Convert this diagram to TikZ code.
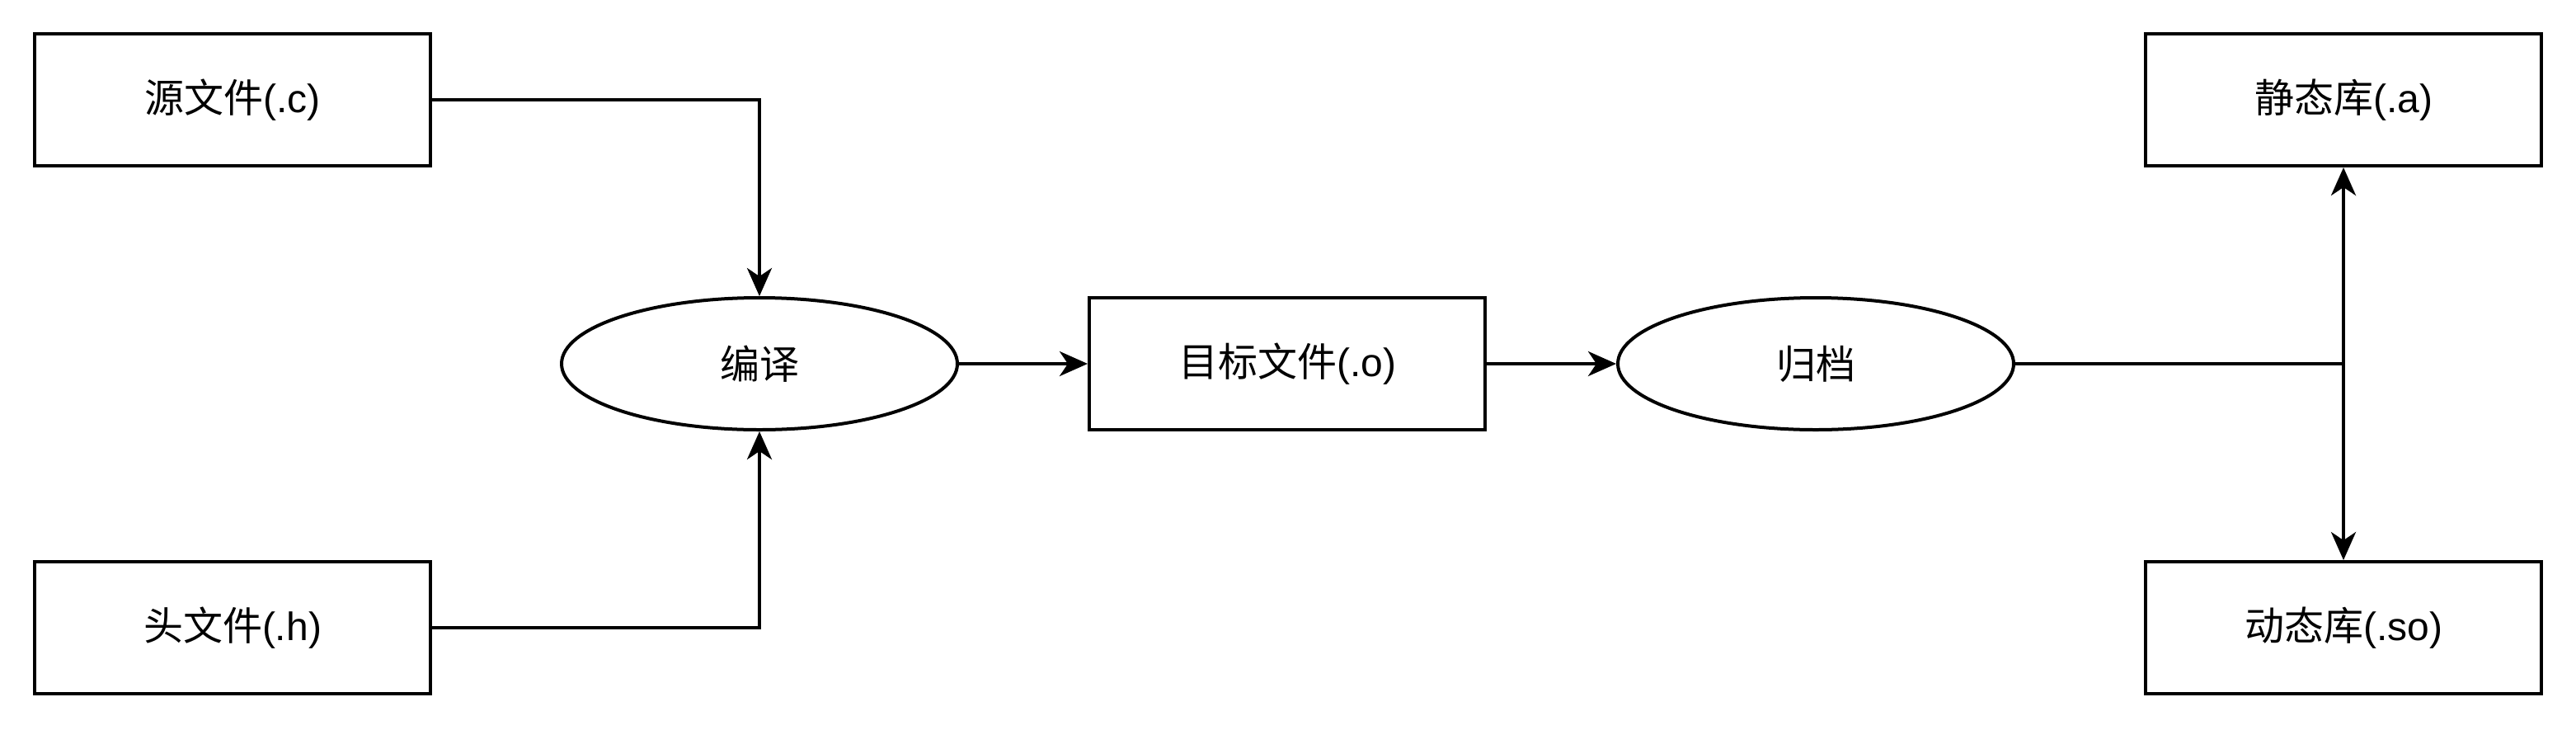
\documentclass[tikz,border=0pt]{standalone}
\usepackage{fontspec}
\setmainfont{Liberation Sans}
\newfontfamily\cjk{Noto Sans CJK SC}
\usetikzlibrary{arrows.meta,shapes.geometric}
\begin{document}
\begin{tikzpicture}[x=1pt,y=-1pt,
  every node/.style={font=\fontsize{24}{28}\selectfont, line width=2pt, inner sep=0pt},
  filebox/.style={draw, rectangle, minimum width=240pt, minimum height=80pt},
  procell/.style={draw, ellipse, minimum width=240pt, minimum height=80pt},
  arr/.style={line width=2pt, -{Stealth[length=17pt,width=15pt,inset=5pt]}},
  ln/.style={line width=2pt}]
\useasboundingbox (0,0) rectangle (1562,442);
\node[filebox] (src) at (141,60.5) {{\cjk 源文件}(.c)};
\node[filebox] (hdr) at (141,380.5) {{\cjk 头文件}(.h)};
\node[procell] (comp) at (460.5,220.5) {{\cjk 编译}};
\node[filebox] (obj) at (780.5,220.5) {{\cjk 目标文件}(.o)};
\node[procell] (arch) at (1101,220.5) {{\cjk 归档}};
\node[filebox] (stat) at (1421,60.5) {{\cjk 静态库}(.a)};
\node[filebox] (dyn) at (1421,380.5) {{\cjk 动态库}(.so)};
\coordinate (j) at (stat.south |- arch.east);
\draw[arr] (src.east) -| (comp.north);
\draw[arr] (hdr.east) -| (comp.south);
\draw[arr] (comp.east) -- (obj.west);
\draw[arr] (obj.east) -- (arch.west);
\draw[ln] (arch.east) -- (j);
\draw[arr] (j) -- (stat.south);
\draw[arr] (j) -- (dyn.north);
\end{tikzpicture}
\end{document}
